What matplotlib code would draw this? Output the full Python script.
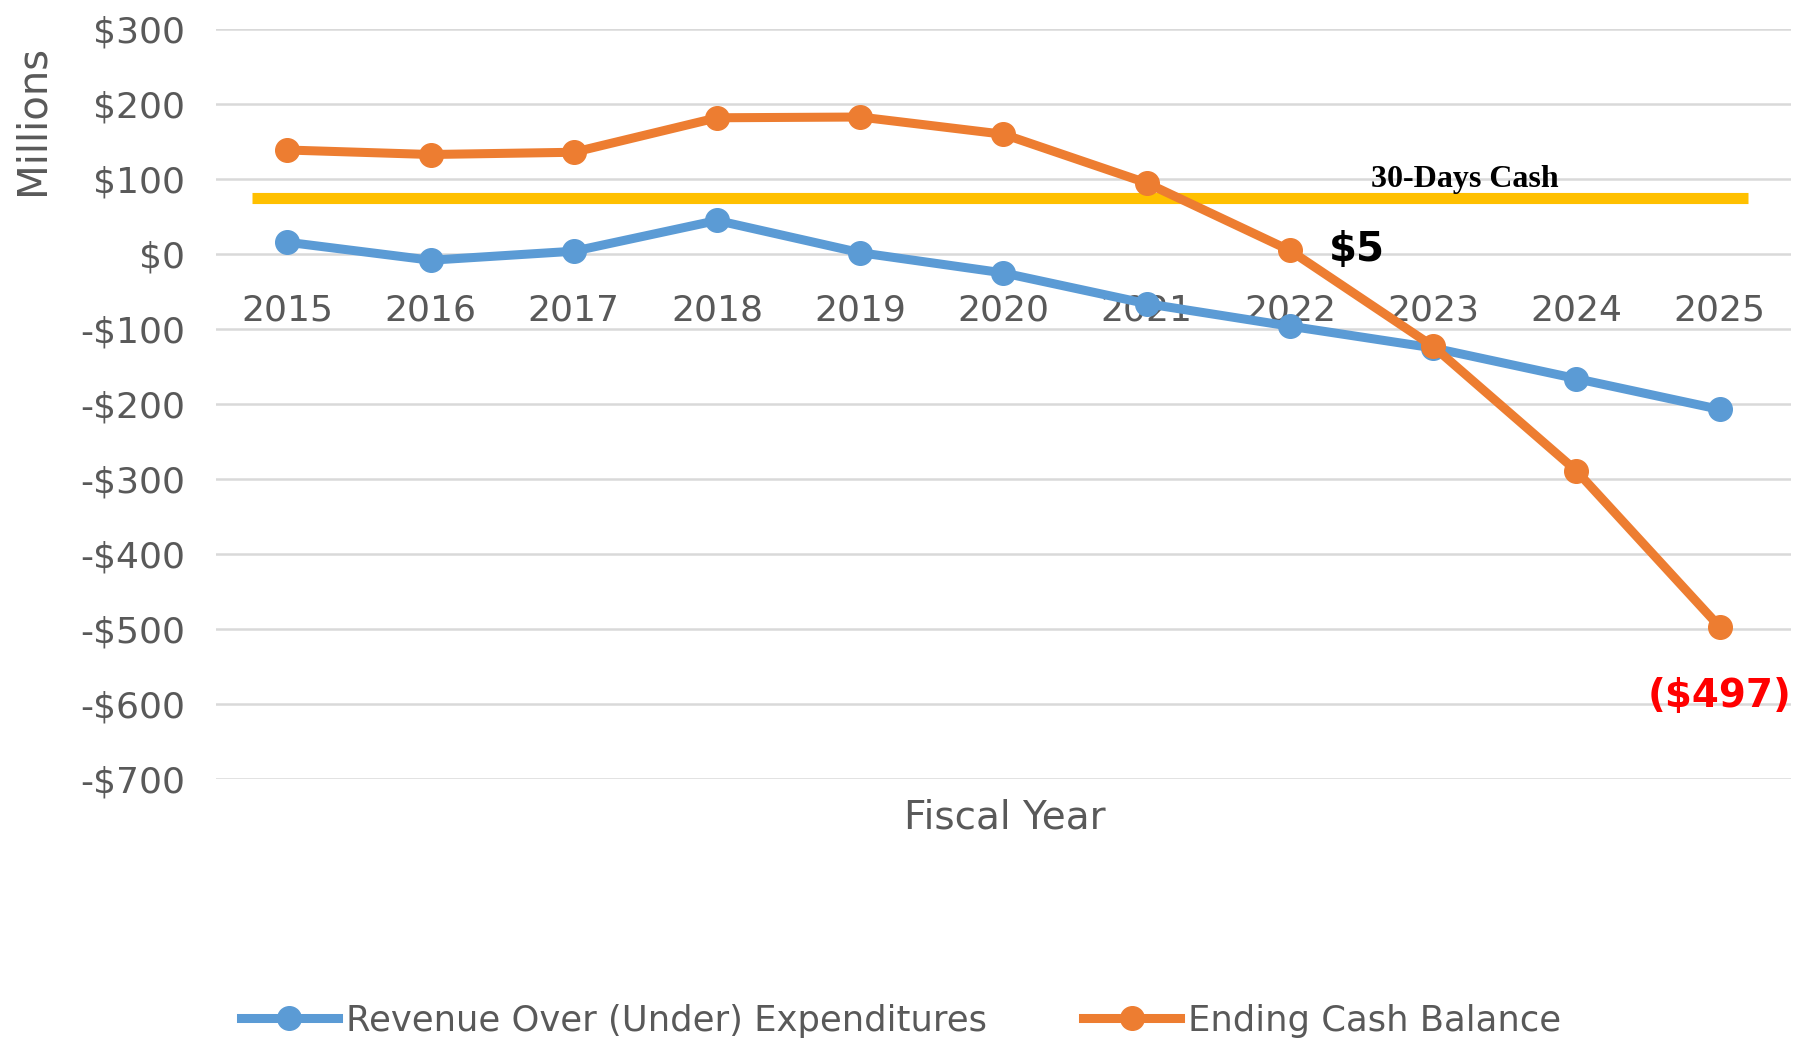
import matplotlib

matplotlib.use("Agg")
import matplotlib.pyplot as plt

# ── Data (millions of dollars) ───────────────────────────────────────────────
years = ["2015", "2016", "2017", "2018", "2019", "2020",
         "2021", "2022", "2023", "2024", "2025"]
revenue_over_under = [16, -8, 4, 45, 2, -25, -66, -96, -125, -166, -207]
ending_cash = [139, 133, 136, 182, 183, 160, 95, 5, -123, -289, -497]
thirty_days_cash = 75
y_ticks = [300, 200, 100, 0, -100, -200, -300, -400, -500, -600, -700]

C_BLUE = "#5B9BD5"
C_ORANGE = "#ED7D31"
C_YELLOW = "#FFC000"
C_GRID = "#D9D9D9"
C_TICK = "#595959"

plt.rcParams["font.family"] = ["DejaVu Sans"]

fig = plt.figure(figsize=(18.13, 10.47), dpi=100)
ax = fig.add_axes([0.119, 0.256, 0.869, 0.716])

x = list(range(len(years)))

# horizontal grid
for v in y_ticks:
    ax.axhline(v, color=C_GRID, lw=1.8, zorder=0)

# 30-day cash threshold
ax.plot([-0.25, 10.2], [thirty_days_cash, thirty_days_cash],
        color=C_YELLOW, lw=8, solid_capstyle="butt", zorder=1)
ax.text(8.22, thirty_days_cash + 24, "30-Days Cash", ha="center", va="center",
        fontsize=23, fontweight="bold", family="Liberation Serif", color="black")

ax.plot(x, revenue_over_under, color=C_BLUE, lw=6.5, marker="o", ms=17,
        label="Revenue Over (Under) Expenditures", zorder=3)
ax.plot(x, ending_cash, color=C_ORANGE, lw=6.5, marker="o", ms=17,
        label="Ending Cash Balance", zorder=4)

# annotations
ax.text(7.47, ending_cash[7], f"${ending_cash[7]}", ha="center", va="center",
        fontsize=29, fontweight="bold", color="black", zorder=5)
ax.text(10, ending_cash[10] - 92, f"(${-ending_cash[10]})", ha="center", va="center",
        fontsize=28, fontweight="bold", color="#FF0000", zorder=5)

ax.set_xlim(-0.5, 10.5)
ax.set_ylim(-700, 300)
ax.set_yticks(y_ticks)
ax.set_yticklabels([f"${v}" if v >= 0 else f"-${-v}" for v in y_ticks])
ax.set_xticks(x)
ax.set_xticklabels(years)

for s in ax.spines.values():
    s.set_visible(False)
ax.spines["bottom"].set_position(("data", 0))
ax.tick_params(axis="y", length=0, pad=22, labelsize=26, labelcolor=C_TICK)
ax.tick_params(axis="x", length=0, pad=28, labelsize=26, labelcolor=C_TICK)

fig.text(0.018, 0.885, "Millions", rotation=90, ha="center", va="center",
         fontsize=29, color=C_TICK)
fig.text(0.554, 0.219, "Fiscal Year", ha="center", va="center",
         fontsize=28, color=C_TICK)

fig.legend(loc="center", bbox_to_anchor=(0.497, 0.025), ncol=2, frameon=False,
           fontsize=25.5, handlelength=2.75, handletextpad=0.23, columnspacing=2.7,
           labelcolor=C_TICK)

fig.savefig("out.png", dpi=100, facecolor="white")
